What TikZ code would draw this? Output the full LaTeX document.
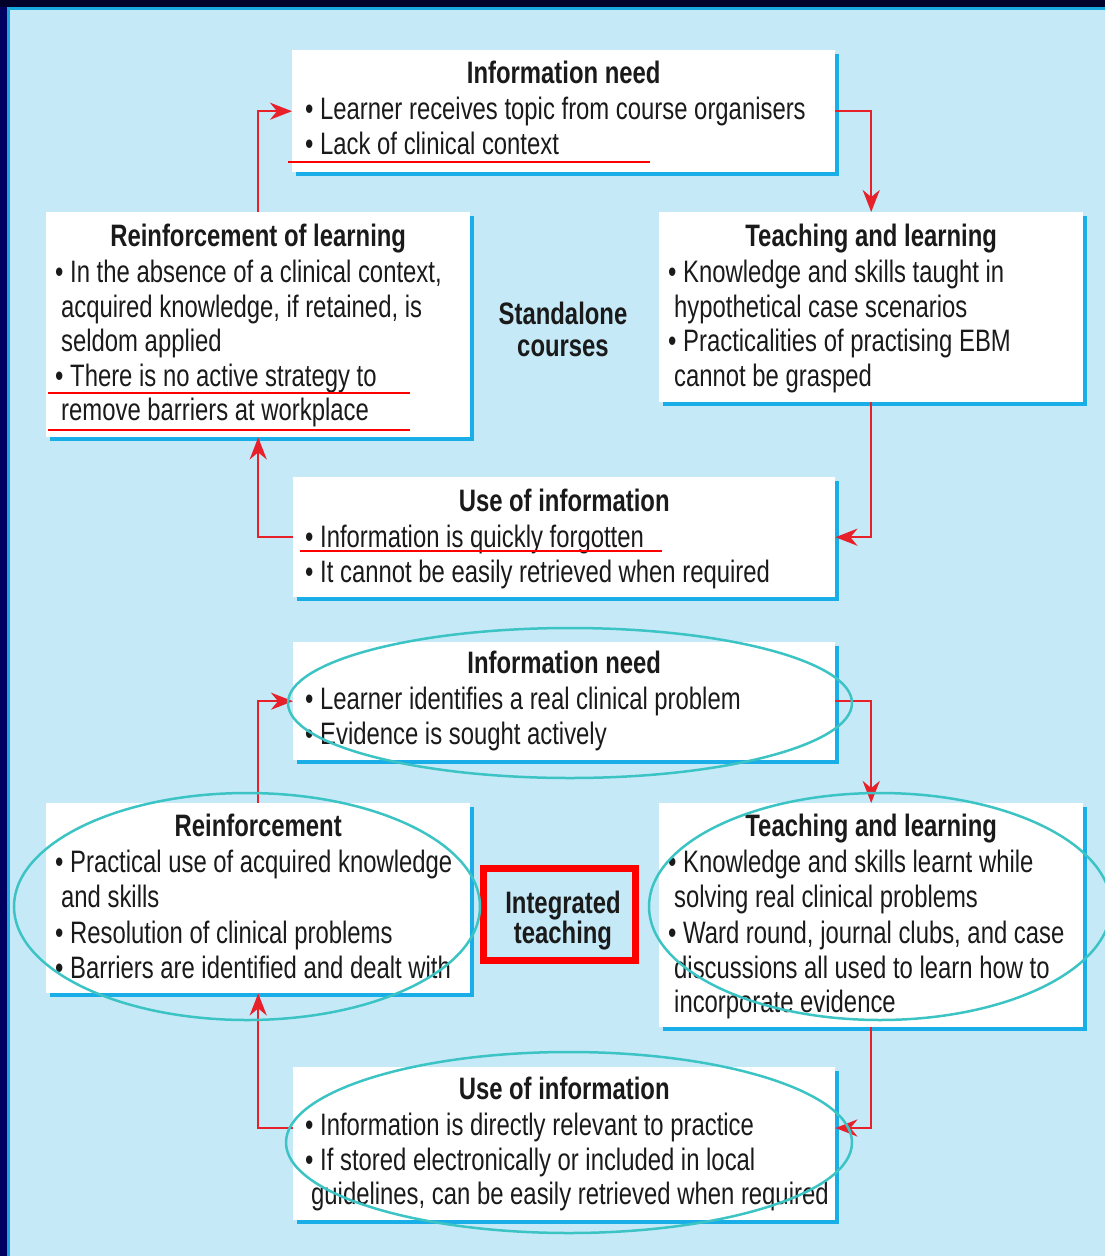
\documentclass[tikz,border=0pt]{standalone}
\usepackage{fontspec}
\setmainfont{Liberation Sans}[FakeStretch=0.77]
\usetikzlibrary{shadows,calc,arrows.meta}
\definecolor{bgblue}{HTML}{C6E9F8}
\definecolor{navytop}{HTML}{00002A}
\definecolor{navyleft}{HTML}{000060}
\definecolor{edgeblue}{HTML}{1AA8E0}
\definecolor{shadowblue}{HTML}{1AAEE8}
\definecolor{arrred}{HTML}{E8202A}
\definecolor{ulred}{HTML}{FF0000}
\definecolor{ellteal}{HTML}{3CC4C4}
\definecolor{textgray}{HTML}{1A1A1A}
\newcommand\bul{\textbullet\ }
\newcommand\cont{\hspace*{6pt}}
\newcommand\ttl[1]{\centering\textbf{#1}\par\vspace{2pt}\raggedright}
\begin{document}
\begin{tikzpicture}[x=1pt,y=-1pt,
  box/.style={fill=white, rectangle, inner sep=0pt, anchor=north west,
    general shadow={fill=shadowblue, shadow xshift=4pt, shadow yshift=-4pt}},
  txt/.style={inner sep=0pt, anchor=base west, text=textgray,
    font=\fontsize{31}{34.5}\selectfont},
  lbl/.style={inner sep=0pt, text=textgray, align=center,
    font=\fontsize{31}{32}\selectfont\bfseries},
  arr/.style={draw=arrred, line width=2.5pt,
    -{Stealth[length=22pt,width=17pt,inset=7pt]}},
  uline/.style={draw=ulred, line width=2.5pt},
  ell/.style={draw=ellteal, line width=2.5pt},
  redframe/.style={draw=ulred, line width=7pt, minimum width=151.5pt,
    minimum height=91.5pt, inner sep=0pt}
]
\useasboundingbox (0,0) rectangle (1105,1256);
% background
\fill[bgblue] (0,0) rectangle (1105,1256);
\fill[navytop] (0,0) rectangle (1105,7);
\fill[navyleft] (0,7) rectangle (7,1256);
\fill[edgeblue] (7,7) rectangle (1105,10);
\fill[edgeblue] (7,7) rectangle (9.5,1256);

% ---------- Standalone courses ----------
\node[box, minimum width=543pt, minimum height=122pt] (in1) at (292,50) {};
\node[box, minimum width=424pt, minimum height=225pt] (r1) at (46,212) {};
\node[box, minimum width=424pt, minimum height=190pt] (t1) at (659,212) {};
\node[box, minimum width=542pt, minimum height=120pt] (u1) at (293,477) {};

\node[txt] (in1t) at ($(in1.north west)+(13,33)$) {\parbox[t]{517pt}{%
  \ttl{Information need}%
  \mbox{\bul Learner receives topic from course organisers}\\
  \mbox{\bul Lack of clinical context}}};
\node[txt] (r1t) at ($(r1.north west)+(9,34)$) {\parbox[t]{406pt}{%
  \ttl{Reinforcement of learning}%
  \mbox{\bul In the absence of a clinical context,}\\
  \mbox{\cont acquired knowledge, if retained, is}\\
  \mbox{\cont seldom applied}\\
  \mbox{\bul There is no active strategy to}\\
  \mbox{\cont remove barriers at workplace}}};
\node[txt] (t1t) at ($(t1.north west)+(9,34)$) {\parbox[t]{406pt}{%
  \ttl{Teaching and learning}%
  \mbox{\bul Knowledge and skills taught in}\\
  \mbox{\cont hypothetical case scenarios}\\
  \mbox{\bul Practicalities of practising EBM}\\
  \mbox{\cont cannot be grasped}}};
\node[txt] (u1t) at ($(u1.north west)+(12,34)$) {\parbox[t]{518pt}{%
  \ttl{Use of information}%
  \mbox{\bul Information is quickly forgotten}\\
  \mbox{\bul It cannot be easily retrieved when required}}};

\node[lbl] (sa) at (563,329) {Standalone\\courses};

\draw[uline] (288,162) -- (650,162);
\draw[uline] (48,393) -- (410,393);
\draw[uline] (48,430) -- (410,430);
\draw[uline] (300,551) -- (662,551);

\draw[arr] (r1.north) |- (in1.west);
\draw[arr] (in1.east) -| (t1.north);
\draw[arr] (t1.south) |- (u1.east);
\draw[arr] (u1.west) -| (r1.south);

% ---------- Integrated teaching ----------
\node[box, minimum width=542pt, minimum height=118pt] (in2) at (293,642) {};
\node[box, minimum width=424pt, minimum height=190pt] (r2) at (46,803) {};
\node[box, minimum width=424pt, minimum height=224pt] (t2) at (659,803) {};
\node[box, minimum width=542pt, minimum height=153pt] (u2) at (293,1067) {};

\node[txt] (in2t) at ($(in2.north west)+(12,31)$) {\parbox[t]{518pt}{%
  \ttl{Information need}%
  \mbox{\bul Learner identifies a real clinical problem}\\
  \mbox{\bul Evidence is sought actively}}};
\node[txt] (r2t) at ($(r2.north west)+(9,33)$) {\parbox[t]{406pt}{%
  \ttl{Reinforcement}%
  \mbox{\bul Practical use of acquired knowledge}\\
  \mbox{\cont and skills}\\[2pt]
  \mbox{\bul Resolution of clinical problems}\\
  \mbox{\bul Barriers are identified and dealt with}}};
\node[txt] (t2t) at ($(t2.north west)+(9,33)$) {\parbox[t]{406pt}{%
  \ttl{Teaching and learning}%
  \mbox{\bul Knowledge and skills learnt while}\\
  \mbox{\cont solving real clinical problems}\\[2pt]
  \mbox{\bul Ward round, journal clubs, and case}\\
  \mbox{\cont discussions all used to learn how to}\\
  \mbox{\cont incorporate evidence}}};
\node[txt] (u2t) at ($(u2.north west)+(12,32)$) {\parbox[t]{518pt}{%
  \ttl{Use of information}%
  \mbox{\bul Information is directly relevant to practice}\\
  \mbox{\bul If stored electronically or included in local}\\
  \mbox{\cont guidelines, can be easily retrieved when required}}};

\node[redframe] (it) at (559.25,914.25) {};
\node[lbl, font=\fontsize{31}{30}\selectfont\bfseries] (itt) at (563,921) {Integrated\\teaching};

\coordinate (u2w) at ($(u2.north west)+(0,61)$);
\coordinate (u2e) at ($(u2.north east)+(0,61)$);
\draw[arr] (r2.north) |- (in2.west);
\draw[arr] (in2.east) -| (t2.north);
\draw[arr] (t2.south) |- (u2e);
\draw[arr] (u2w) -| (r2.south);

% ellipses
\draw[ell] (570,703) ellipse [x radius=282, y radius=75];
\draw[ell] (247,906.5) ellipse [x radius=233, y radius=113.5];
\draw[ell] (880,906.5) ellipse [x radius=231, y radius=113.5];
\draw[ell] (569,1142.5) ellipse [x radius=283, y radius=90.5];
\end{tikzpicture}
\end{document}
